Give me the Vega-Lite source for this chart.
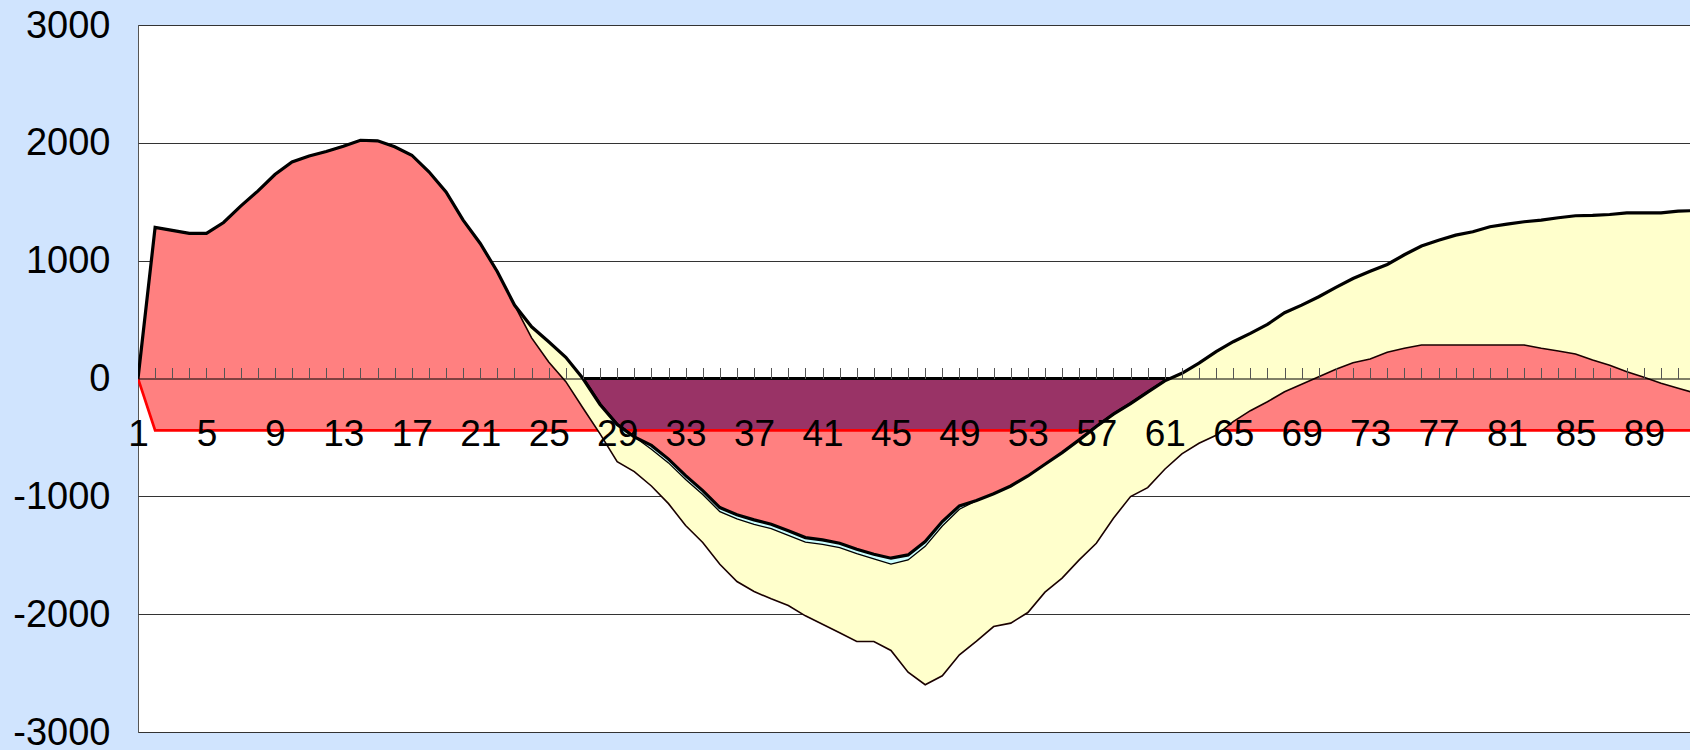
{
 "$schema": "https://vega.github.io/schema/vega-lite/v6.json",
 "width": 1553, "height": 707,
 "autosize": {"type": "none"},
 "padding": {"left": 138, "top": 25, "right": 0, "bottom": 18},
 "background": "#D0E4FE",
 "config": {
  "view": {"fill": "#FFFFFF", "stroke": "#555555", "strokeWidth": 1},
  "font": "Liberation Sans",
  "axisY": {"grid": true, "gridColor": "#333333", "gridWidth": 1, "ticks": false, "domain": false, "labelFontSize": 38, "labelPadding": 28, "labelColor": "#000000", "labelFont": "Liberation Sans", "zindex": 0, "labelOffset": 1}
 },
 "data": {"values": [
  {"c":1,"T":0,"T2":0,"L":0,"R":0,"Pn":0},
  {"c":2,"T":1282,"T2":1282,"L":1282,"R":-440,"Pn":0},
  {"c":3,"T":1257,"T2":1257,"L":1257,"R":-440,"Pn":0},
  {"c":4,"T":1231,"T2":1231,"L":1231,"R":-440,"Pn":0},
  {"c":5,"T":1231,"T2":1231,"L":1231,"R":-440,"Pn":0},
  {"c":6,"T":1324,"T2":1324,"L":1324,"R":-440,"Pn":0},
  {"c":7,"T":1463,"T2":1463,"L":1463,"R":-440,"Pn":0},
  {"c":8,"T":1590,"T2":1590,"L":1590,"R":-440,"Pn":0},
  {"c":9,"T":1731,"T2":1731,"L":1731,"R":-440,"Pn":0},
  {"c":10,"T":1838,"T2":1838,"L":1838,"R":-440,"Pn":0},
  {"c":11,"T":1889,"T2":1889,"L":1889,"R":-440,"Pn":0},
  {"c":12,"T":1926,"T2":1926,"L":1926,"R":-440,"Pn":0},
  {"c":13,"T":1971,"T2":1971,"L":1971,"R":-440,"Pn":0},
  {"c":14,"T":2022,"T2":2022,"L":2022,"R":-440,"Pn":0},
  {"c":15,"T":2017,"T2":2017,"L":2017,"R":-440,"Pn":0},
  {"c":16,"T":1966,"T2":1966,"L":1966,"R":-440,"Pn":0},
  {"c":17,"T":1895,"T2":1895,"L":1895,"R":-440,"Pn":0},
  {"c":18,"T":1754,"T2":1754,"L":1754,"R":-440,"Pn":0},
  {"c":19,"T":1584,"T2":1584,"L":1584,"R":-440,"Pn":0},
  {"c":20,"T":1344,"T2":1344,"L":1344,"R":-440,"Pn":0},
  {"c":21,"T":1146,"T2":1146,"L":1146,"R":-440,"Pn":0},
  {"c":22,"T":906,"T2":906,"L":906,"R":-440,"Pn":0},
  {"c":23,"T":623,"T2":623,"L":623,"R":-440,"Pn":0},
  {"c":24,"T":439,"T2":439,"L":345,"R":-440,"Pn":0},
  {"c":25,"T":312,"T2":312,"L":140,"R":-440,"Pn":0},
  {"c":26,"T":180,"T2":180,"L":-27,"R":-440,"Pn":0},
  {"c":27,"T":0,"T2":0,"L":-250,"R":-440,"Pn":0},
  {"c":28,"T":-220,"T2":-220,"L":-470,"R":-440,"Pn":-220},
  {"c":29,"T":-390,"T2":-390,"L":-705,"R":-440,"Pn":-390},
  {"c":30,"T":-495,"T2":-495,"L":-790,"R":-440,"Pn":-495},
  {"c":31,"T":-568,"T2":-600,"L":-912,"R":-440,"Pn":-568},
  {"c":32,"T":-684,"T2":-716,"L":-1062,"R":-440,"Pn":-684},
  {"c":33,"T":-824,"T2":-857,"L":-1248,"R":-440,"Pn":-824},
  {"c":34,"T":-951,"T2":-985,"L":-1392,"R":-440,"Pn":-951},
  {"c":35,"T":-1095,"T2":-1130,"L":-1576,"R":-440,"Pn":-1095},
  {"c":36,"T":-1157,"T2":-1192,"L":-1723,"R":-440,"Pn":-1157},
  {"c":37,"T":-1200,"T2":-1238,"L":-1808,"R":-440,"Pn":-1200},
  {"c":38,"T":-1237,"T2":-1275,"L":-1870,"R":-440,"Pn":-1237},
  {"c":39,"T":-1293,"T2":-1331,"L":-1926,"R":-440,"Pn":-1293},
  {"c":40,"T":-1350,"T2":-1388,"L":-2014,"R":-440,"Pn":-1350},
  {"c":41,"T":-1369,"T2":-1407,"L":-2085,"R":-440,"Pn":-1369},
  {"c":42,"T":-1398,"T2":-1436,"L":-2158,"R":-440,"Pn":-1398},
  {"c":43,"T":-1449,"T2":-1487,"L":-2232,"R":-440,"Pn":-1449},
  {"c":44,"T":-1491,"T2":-1531,"L":-2232,"R":-440,"Pn":-1491},
  {"c":45,"T":-1525,"T2":-1575,"L":-2308,"R":-440,"Pn":-1525},
  {"c":46,"T":-1497,"T2":-1540,"L":-2492,"R":-440,"Pn":-1497},
  {"c":47,"T":-1384,"T2":-1424,"L":-2599,"R":-440,"Pn":-1384},
  {"c":48,"T":-1214,"T2":-1252,"L":-2523,"R":-440,"Pn":-1214},
  {"c":49,"T":-1081,"T2":-1110,"L":-2345,"R":-440,"Pn":-1081},
  {"c":50,"T":-1036,"T2":-1036,"L":-2229,"R":-440,"Pn":-1036},
  {"c":51,"T":-978,"T2":-978,"L":-2105,"R":-440,"Pn":-978},
  {"c":52,"T":-912,"T2":-912,"L":-2076,"R":-440,"Pn":-912},
  {"c":53,"T":-827,"T2":-827,"L":-1986,"R":-440,"Pn":-827},
  {"c":54,"T":-728,"T2":-728,"L":-1813,"R":-440,"Pn":-728},
  {"c":55,"T":-629,"T2":-629,"L":-1694,"R":-440,"Pn":-629},
  {"c":56,"T":-521,"T2":-521,"L":-1539,"R":-440,"Pn":-521},
  {"c":57,"T":-408,"T2":-408,"L":-1398,"R":-440,"Pn":-408},
  {"c":58,"T":-303,"T2":-303,"L":-1186,"R":-440,"Pn":-303},
  {"c":59,"T":-213,"T2":-213,"L":-1002,"R":-440,"Pn":-213},
  {"c":60,"T":-116,"T2":-116,"L":-926,"R":-440,"Pn":-116},
  {"c":61,"T":-20,"T2":-20,"L":-770,"R":-440,"Pn":-20},
  {"c":62,"T":44,"T2":44,"L":-640,"R":-440,"Pn":0},
  {"c":63,"T":130,"T2":130,"L":-550,"R":-440,"Pn":0},
  {"c":64,"T":228,"T2":228,"L":-482,"R":-440,"Pn":0},
  {"c":65,"T":312,"T2":312,"L":-366,"R":-440,"Pn":0},
  {"c":66,"T":383,"T2":383,"L":-273,"R":-440,"Pn":0},
  {"c":67,"T":459,"T2":459,"L":-197,"R":-440,"Pn":0},
  {"c":68,"T":558,"T2":558,"L":-112,"R":-440,"Pn":0},
  {"c":69,"T":623,"T2":623,"L":-49,"R":-440,"Pn":0},
  {"c":70,"T":694,"T2":694,"L":15,"R":-440,"Pn":0},
  {"c":71,"T":773,"T2":773,"L":78,"R":-440,"Pn":0},
  {"c":72,"T":849,"T2":849,"L":134,"R":-440,"Pn":0},
  {"c":73,"T":910,"T2":910,"L":165,"R":-440,"Pn":0},
  {"c":74,"T":968,"T2":968,"L":222,"R":-440,"Pn":0},
  {"c":75,"T":1050,"T2":1050,"L":256,"R":-440,"Pn":0},
  {"c":76,"T":1124,"T2":1124,"L":284,"R":-440,"Pn":0},
  {"c":77,"T":1174,"T2":1174,"L":284,"R":-440,"Pn":0},
  {"c":78,"T":1217,"T2":1217,"L":284,"R":-440,"Pn":0},
  {"c":79,"T":1245,"T2":1245,"L":284,"R":-440,"Pn":0},
  {"c":80,"T":1288,"T2":1288,"L":284,"R":-440,"Pn":0},
  {"c":81,"T":1310,"T2":1310,"L":284,"R":-440,"Pn":0},
  {"c":82,"T":1330,"T2":1330,"L":284,"R":-440,"Pn":0},
  {"c":83,"T":1344,"T2":1344,"L":256,"R":-440,"Pn":0},
  {"c":84,"T":1364,"T2":1364,"L":233,"R":-440,"Pn":0},
  {"c":85,"T":1381,"T2":1381,"L":208,"R":-440,"Pn":0},
  {"c":86,"T":1384,"T2":1384,"L":157,"R":-440,"Pn":0},
  {"c":87,"T":1392,"T2":1392,"L":112,"R":-440,"Pn":0},
  {"c":88,"T":1406,"T2":1406,"L":58,"R":-440,"Pn":0},
  {"c":89,"T":1406,"T2":1406,"L":10,"R":-440,"Pn":0},
  {"c":90,"T":1406,"T2":1406,"L":-41,"R":-440,"Pn":0},
  {"c":91,"T":1420,"T2":1420,"L":-83,"R":-440,"Pn":0},
  {"c":92,"T":1425,"T2":1425,"L":-125,"R":-440,"Pn":0}
 ]},
 "resolve": {"axis": {"x": "independent"}},
 "layer": [
  {
   "mark": {"type": "area", "orient": "vertical", "fill": "#993366", "stroke": "#000000", "strokeWidth": 3, "clip": true},
   "encoding": {
    "x": {"field": "c", "type": "quantitative", "scale": {"domain": [1, 91.75], "nice": false, "zero": false},
     "axis": {"orient": "bottom", "offset": -353.5, "values": [1,5,9,13,17,21,25,29,33,37,41,45,49,53,57,61,65,69,73,77,81,85,89], "ticks": false, "domain": true, "domainColor": "#000000", "domainWidth": 1, "grid": false, "labelFontSize": 37, "labelPadding": 37.5, "labelFlush": false, "labelOverlap": false, "labelColor": "#000000", "labelFont": "Liberation Sans", "title": null, "zindex": 1, "labelExpr": "'' + datum.value"}},
    "y": {"field": "Pn", "type": "quantitative", "title": null, "scale": {"domain": [-3000, 3000], "nice": false, "zero": false}, "axis": {"values": [-3000,-2000,-1000,0,1000,2000,3000], "labelExpr": "'' + datum.value"}},
    "y2": {"datum": 0}
   }
  },
  {
   "mark": {"type": "area", "orient": "vertical", "fill": "#FF8080", "clip": true},
   "encoding": {
    "x": {"field": "c", "type": "quantitative", "scale": {"domain": [1, 91.75], "nice": false, "zero": false},
     "axis": {"orient": "top", "offset": -353.5, "values": [2,3,4,5,6,7,8,9,10,11,12,13,14,15,16,17,18,19,20,21,22,23,24,25,26,27,28,29,30,31,32,33,34,35,36,37,38,39,40,41,42,43,44,45,46,47,48,49,50,51,52,53,54,55,56,57,58,59,60,61,62,63,64,65,66,67,68,69,70,71,72,73,74,75,76,77,78,79,80,81,82,83,84,85,86,87,88,89,90,91], "ticks": true, "tickSize": 11, "tickColor": "#555555", "tickWidth": 1, "labels": false, "domain": false, "grid": false, "title": null, "zindex": 1}},
    "y": {"field": "T", "type": "quantitative", "title": null, "scale": {"domain": [-3000, 3000], "nice": false, "zero": false}, "axis": {"values": [-3000,-2000,-1000,0,1000,2000,3000], "labelExpr": "'' + datum.value"}},
    "y2": {"field": "R"}
   }
  },
  {
   "mark": {"type": "line", "color": "#FF0000", "strokeWidth": 2.7, "clip": true},
   "encoding": {
    "x": {"field": "c", "type": "quantitative", "scale": {"domain": [1, 91.75], "nice": false, "zero": false}, "axis": null},
    "y": {"field": "R", "type": "quantitative", "title": null, "scale": {"domain": [-3000, 3000], "nice": false, "zero": false}, "axis": {"values": [-3000,-2000,-1000,0,1000,2000,3000], "labelExpr": "'' + datum.value"}}
   }
  },
  {
   "mark": {"type": "area", "orient": "vertical", "fill": "#FFFFCC", "clip": true},
   "encoding": {
    "x": {"field": "c", "type": "quantitative", "scale": {"domain": [1, 91.75], "nice": false, "zero": false}, "axis": null},
    "y": {"field": "T", "type": "quantitative", "title": null, "scale": {"domain": [-3000, 3000], "nice": false, "zero": false}, "axis": {"values": [-3000,-2000,-1000,0,1000,2000,3000], "labelExpr": "'' + datum.value"}},
    "y2": {"field": "L"}
   }
  },
  {
   "mark": {"type": "area", "orient": "vertical", "fill": "#CCFFFF", "clip": true},
   "encoding": {
    "x": {"field": "c", "type": "quantitative", "scale": {"domain": [1, 91.75], "nice": false, "zero": false}, "axis": null},
    "y": {"field": "T", "type": "quantitative", "title": null, "scale": {"domain": [-3000, 3000], "nice": false, "zero": false}, "axis": {"values": [-3000,-2000,-1000,0,1000,2000,3000], "labelExpr": "'' + datum.value"}},
    "y2": {"field": "T2"}
   }
  },
  {
   "mark": {"type": "line", "color": "#1a0000", "strokeWidth": 1.6, "clip": true},
   "encoding": {
    "x": {"field": "c", "type": "quantitative", "scale": {"domain": [1, 91.75], "nice": false, "zero": false}, "axis": null},
    "y": {"field": "L", "type": "quantitative", "title": null, "scale": {"domain": [-3000, 3000], "nice": false, "zero": false}, "axis": {"values": [-3000,-2000,-1000,0,1000,2000,3000], "labelExpr": "'' + datum.value"}}
   }
  },
  {
   "mark": {"type": "line", "color": "#000000", "strokeWidth": 1.3, "clip": true},
   "encoding": {
    "x": {"field": "c", "type": "quantitative", "scale": {"domain": [1, 91.75], "nice": false, "zero": false}, "axis": null},
    "y": {"field": "T2", "type": "quantitative", "title": null, "scale": {"domain": [-3000, 3000], "nice": false, "zero": false}, "axis": {"values": [-3000,-2000,-1000,0,1000,2000,3000], "labelExpr": "'' + datum.value"}}
   }
  },
  {
   "mark": {"type": "line", "color": "#000000", "strokeWidth": 3.2, "clip": true},
   "encoding": {
    "x": {"field": "c", "type": "quantitative", "scale": {"domain": [1, 91.75], "nice": false, "zero": false}, "axis": null},
    "y": {"field": "T", "type": "quantitative", "title": null, "scale": {"domain": [-3000, 3000], "nice": false, "zero": false}, "axis": {"values": [-3000,-2000,-1000,0,1000,2000,3000], "labelExpr": "'' + datum.value"}}
   }
  }
 ]
}
